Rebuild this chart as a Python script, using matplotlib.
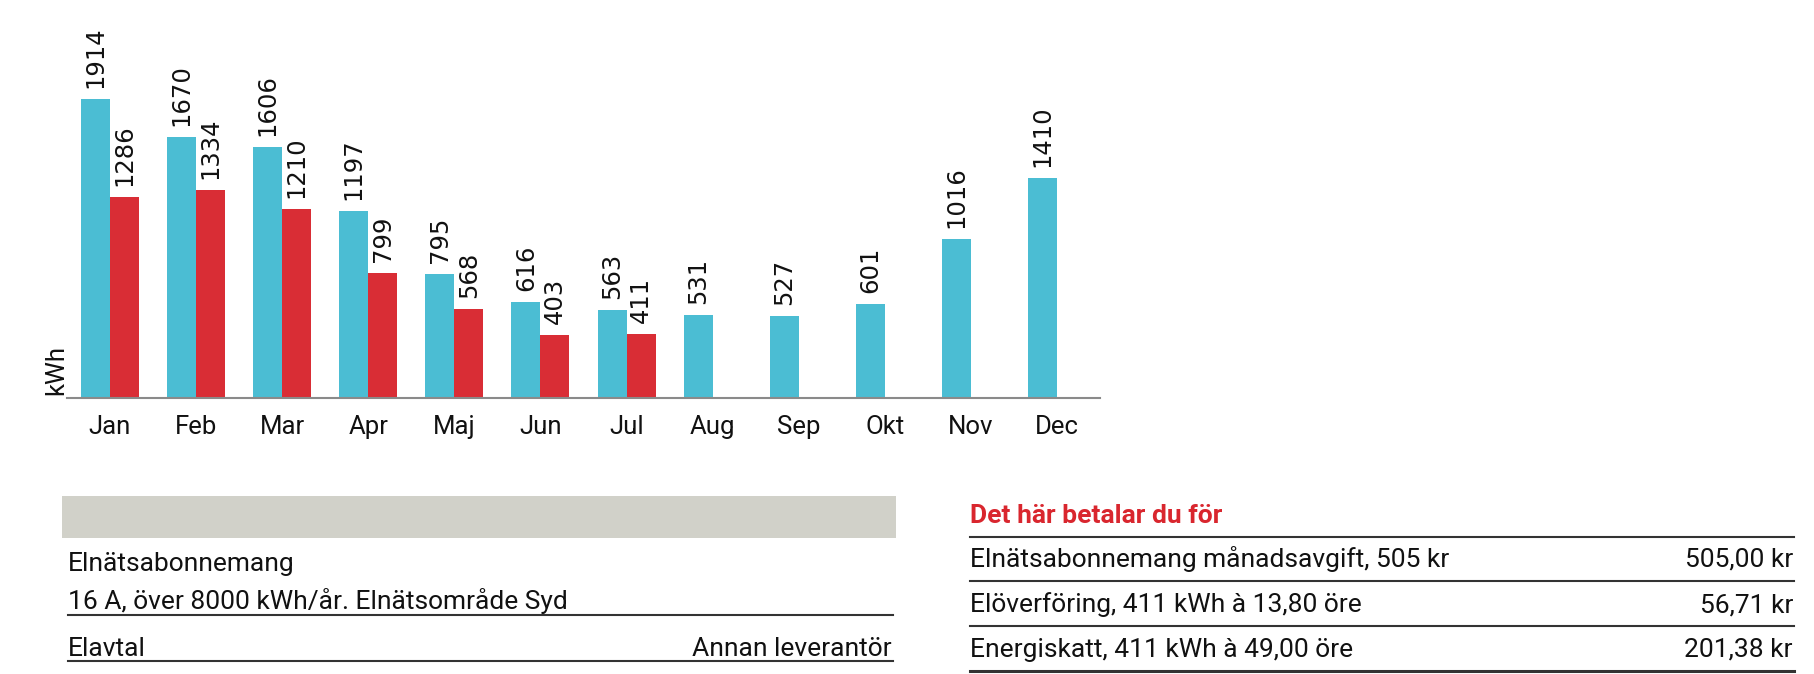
import matplotlib
matplotlib.use("Agg")
import matplotlib.pyplot as plt
from matplotlib.patches import Rectangle
from matplotlib.lines import Line2D

# data
months = ["Jan", "Feb", "Mar", "Apr", "Maj", "Jun", "Jul",
          "Aug", "Sep", "Okt", "Nov", "Dec"]
kwh_prev = [1914, 1670, 1606, 1197, 795, 616, 563, 531, 527, 601, 1016, 1410]
kwh_curr = [1286, 1334, 1210, 799, 568, 403, 411]

left_rows = ["Elnätsabonnemang",
             "16 A, över 8000 kWh/år. Elnätsområde Syd",
             "Elavtal"]
left_right_text = "Annan leverantör"

pay_title = "Det här betalar du för"
pay_items = ["Elnätsabonnemang månadsavgift, 505 kr",
             "Elöverföring, 411 kWh à 13,80 öre",
             "Energiskatt, 411 kWh à 49,00 öre"]
pay_amounts = ["505,00 kr", "56,71 kr", "201,38 kr"]

BLUE = "#4bbdd3"
RED = "#d92d35"
W, H = 1814, 674
FONT = ["Roboto", "DejaVu Sans"]

fig = plt.figure(figsize=(W / 100, H / 100), dpi=100)
fig.patch.set_facecolor("white")

def fx(x):
    return x / W

def fy(y):
    return 1 - y / H

ax = fig.add_axes([fx(67), fy(398), 1033 / W, 398 / H])
bw = 0.337
xs = list(range(len(months)))
ax.bar([x - bw / 2 for x in xs], kwh_prev, width=bw, color=BLUE)
ax.bar([x + bw / 2 for x in range(len(kwh_curr))], kwh_curr, width=bw, color=RED)

for x, v in zip(xs, kwh_prev):
    ax.annotate(str(v), (x - bw / 2, v), xytext=(0, 8), textcoords="offset points",
                rotation=90, ha="center", va="bottom", fontsize=17.5,
                family="DejaVu Sans", color="#111111")
for x, v in enumerate(kwh_curr):
    ax.annotate(str(v), (x + bw / 2, v), xytext=(0, 8), textcoords="offset points",
                rotation=90, ha="center", va="bottom", fontsize=17.5,
                family="DejaVu Sans", color="#111111")

ax.set_xlim(-0.5, 11.5)
ax.set_ylim(0, 2548)
ax.set_xticks(xs)
ax.set_xticklabels(months, fontsize=18.5, family=FONT, color="#111111")
ax.tick_params(axis="x", length=0, pad=12)
ax.set_yticks([])
for s in ["top", "left", "right"]:
    ax.spines[s].set_visible(False)
ax.spines["bottom"].set_color("#8a8a8a")
ax.spines["bottom"].set_linewidth(1.5)

fig.text(fx(56), fy(370), "kWh", rotation=90, ha="center", va="center",
         fontsize=18.5, family=FONT, color="#111111")

# left info table
fig.add_artist(Rectangle((fx(62), fy(538)), (896 - 62) / W, 42 / H,
                         transform=fig.transFigure, color="#d1d1c9", lw=0))
tsize = 19
fig.text(fx(68), fy(571), left_rows[0], ha="left", va="baseline",
         fontsize=tsize, family=FONT, color="#111111")
fig.text(fx(68), fy(609), left_rows[1], ha="left", va="baseline",
         fontsize=tsize, family=FONT, color="#111111")
fig.text(fx(68), fy(656), left_rows[2], ha="left", va="baseline",
         fontsize=tsize, family=FONT, color="#111111")
fig.text(fx(892), fy(656), left_right_text, ha="right", va="baseline",
         fontsize=tsize, family=FONT, color="#111111")
for y in [615, 661]:
    fig.add_artist(Line2D([fx(68), fx(893)], [fy(y), fy(y)],
                          transform=fig.transFigure, color="#333333", lw=1.5))

# right payment table
fig.text(fx(970), fy(523), pay_title, ha="left", va="baseline",
         fontsize=tsize, family=FONT, weight="bold", color="#d9262e")
for y, lw in [(537, 1.5), (581, 1.5), (626, 1.5), (671, 2.2)]:
    fig.add_artist(Line2D([fx(970), fx(1794)], [fy(y), fy(y)],
                          transform=fig.transFigure, color="#333333", lw=lw))
for y, item, amt in zip([567, 612, 657], pay_items, pay_amounts):
    fig.text(fx(970), fy(y), item, ha="left", va="baseline",
             fontsize=tsize, family=FONT, color="#111111")
    fig.text(fx(1793), fy(y), amt, ha="right", va="baseline",
             fontsize=tsize, family=FONT, color="#111111")

fig.savefig("out.png", dpi=100)
